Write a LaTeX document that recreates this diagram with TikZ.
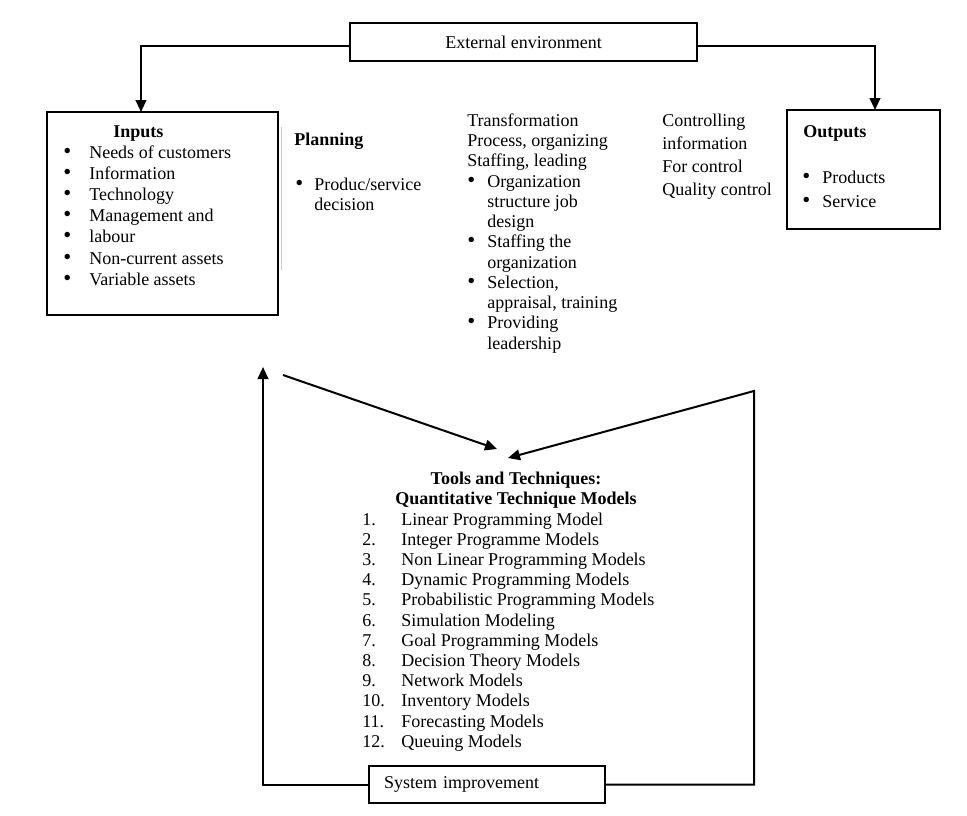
\documentclass[tikz,border=0pt]{standalone}
\usepackage{fontspec}
\setmainfont{Liberation Serif}
\usetikzlibrary{arrows.meta}
\newcommand\fs{\fontsize{13.5}{16}\selectfont}
\newcommand\bul{{\fontsize{17}{16}\selectfont\textbullet}}
\begin{document}
\begin{tikzpicture}[x=0.75pt,y=-0.75pt,
  box/.style={draw,line width=1.5pt},
  conn/.style={line width=1.5pt},
  arr/.style={conn,-{Triangle[length=9pt,width=8pt]}},
  t/.style={inner sep=0pt,anchor=base west,font=\fs},
  tb/.style={t,font=\fs\bfseries},
]
\useasboundingbox (0,0) rectangle (967,815);

% boxes
\node[box,minimum width=260.25pt,minimum height=28.5pt,font=\fs] (ext) at (523.5,42) {External environment};
\node[box,minimum width=173.25pt,minimum height=152.25pt] (inputs) at (162.5,213.5) {};
\node[box,minimum width=114.75pt,minimum height=89.25pt] (outputs) at (863.5,169.5) {};
\node[box,minimum width=177pt,minimum height=27.75pt,text width=154.5pt,inner xsep=11.25pt,align=left,font=\fs] (sys) at (487,784.5) {System improvement};

% faint line
\draw[gray!40,line width=0.75pt] (281,127) -- (281,270);

% Inputs
\node[tb] (intitle) at (113,137) {Inputs};
\foreach \s [count=\i] in {Needs of customers, Information, Technology, Management and, labour, Non-current assets, Variable assets} {
  \node[t] (inb\i) at (63,{158+21.2*(\i-1)}) {\bul};
  \node[t] (inp\i) at (89,{158+21.2*(\i-1)}) {\s};
}

% Planning
\node[tb] (plan) at (294,145) {Planning};
\node[t] (planb) at (295,190) {\bul};
\node[t] (plan1) at (314,190) {Produc/service};
\node[t] (plan2) at (314,210) {decision};

% Transformation
\foreach \s [count=\i] in {Transformation, {Process, organizing}, {Staffing, leading}}
  \node[t] (tr\i) at (467,{126+20.4*(\i-1)}) {\s};
\foreach \s [count=\i] in {Organization, structure job, design, Staffing the, organization, {Selection,}, {appraisal, training}, Providing, leadership}
  \node[t] (trl\i) at (487,{187+20.25*(\i-1)}) {\s};
\foreach \k in {1,4,6,8}
  \node[t] (trb\k) at (467,{187+20.25*(\k-1)}) {\bul};

% Controlling
\foreach \s [count=\i] in {Controlling, information, For control, Quality control}
  \node[t] (ct\i) at (662,{126+23.3*(\i-1)}) {\s};

% Outputs
\node[tb] (outtitle) at (803,137) {Outputs};
\node[t] (outb1) at (802,183) {\bul};
\node[t] (out1) at (822,183) {Products};
\node[t] (outb2) at (802,207) {\bul};
\node[t] (out2) at (822,207) {Service};

% Tools
\node[inner sep=0pt,anchor=base,font=\fs\bfseries] (tools1) at (516,484) {Tools and Techniques:};
\node[inner sep=0pt,anchor=base,font=\fs\bfseries] (tools2) at (516,504) {Quantitative Technique Models};
\foreach \s [count=\i] in {Linear Programming Model, Integer Programme Models, Non Linear Programming Models, Dynamic Programming Models, Probabilistic Programming Models, Simulation Modeling, Goal Programming Models, Decision Theory Models, Network Models, Inventory Models, Forecasting Models, Queuing Models} {
  \node[t] (num\i) at (362,{525+20.2*(\i-1)}) {\i.};
  \node[t] (mod\i) at (401,{525+20.2*(\i-1)}) {\s};
}

% connector points
\coordinate (inL) at (141,112);
\coordinate (outT) at (875,110);
\coordinate (upT) at (263,367);
\coordinate (rTop) at (754,391);
\coordinate (tipR) at (508,458);
\coordinate (lStart) at (283,375);
\coordinate (tipL) at (497,449);

\draw[arr] ([yshift=-3pt]ext.west) -| (inL);
\draw[arr] ([yshift=-3pt]ext.east) -| (outT);
\draw[arr] (sys.west) -| (upT);
\draw[arr] (sys.east) -| (rTop) -- (tipR);
\draw[arr] (lStart) -- (tipL);
\end{tikzpicture}
\end{document}
